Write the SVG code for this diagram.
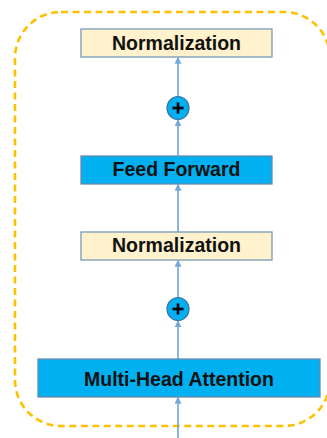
<svg xmlns="http://www.w3.org/2000/svg" width="327" height="438" viewBox="0 0 327 438">
<defs>
<style>
.norm{fill:#FFF2CC;stroke:#7A98B8;stroke-width:1.3}
.blue{fill:#00B0F0;stroke:#6A8CAE;stroke-width:1.3}
.lbl{font-family:"Liberation Sans",Arial,sans-serif;font-weight:bold;font-size:19.5px;fill:#111;text-anchor:middle}
.conn{stroke:#74A8DC;stroke-width:1.7;fill:none;marker-end:url(#ah)}
.add{fill:#00B0F0;stroke:#41719C;stroke-width:1.2}
.plus{stroke:#000;stroke-width:2.6;stroke-linecap:butt}
</style>
<marker id="ah" viewBox="0 0 10 10" refX="9" refY="5" markerWidth="7" markerHeight="7" orient="auto" markerUnits="userSpaceOnUse">
<path d="M0,0 L10,5 L0,10 Z" fill="#74A8DC"/>
</marker>
</defs>
<rect id="container" x="15" y="12" width="315" height="414" rx="46" ry="46" fill="none" stroke="#FFC000" stroke-width="2.6" stroke-dasharray="7,4.5"/>
<g id="connectors">
<line class="conn" x1="178" y1="438" x2="178" y2="397.5"/>
<line class="conn" x1="178" y1="359" x2="178" y2="321"/>
<line class="conn" x1="178" y1="297" x2="178" y2="260.5"/>
<line class="conn" x1="178" y1="232" x2="178" y2="184.5"/>
<line class="conn" x1="178" y1="156" x2="178" y2="120"/>
<line class="conn" x1="178" y1="96" x2="178" y2="57.5"/>
</g>
<g id="norm1"><rect class="norm" x="81" y="29" width="191" height="28"/><text class="lbl" x="176.5" y="50">Normalization</text></g>
<g id="add1"><ellipse class="add" cx="178" cy="108" rx="11" ry="11.5"/><line class="plus" x1="172.5" y1="108" x2="183.5" y2="108"/><line class="plus" x1="178" y1="102.5" x2="178" y2="113.5"/></g>
<g id="ff"><rect class="blue" x="81" y="156" width="191" height="28"/><text class="lbl" x="176.5" y="176">Feed Forward</text></g>
<g id="norm2"><rect class="norm" x="81" y="232" width="191" height="28"/><text class="lbl" x="176.5" y="252">Normalization</text></g>
<g id="add2"><ellipse class="add" cx="178" cy="309" rx="11" ry="11.5"/><line class="plus" x1="172.5" y1="309" x2="183.5" y2="309"/><line class="plus" x1="178" y1="303.5" x2="178" y2="314.5"/></g>
<g id="mha"><rect class="blue" x="38" y="359" width="282" height="38"/><text class="lbl" x="179" y="386">Multi-Head Attention</text></g>
</svg>
